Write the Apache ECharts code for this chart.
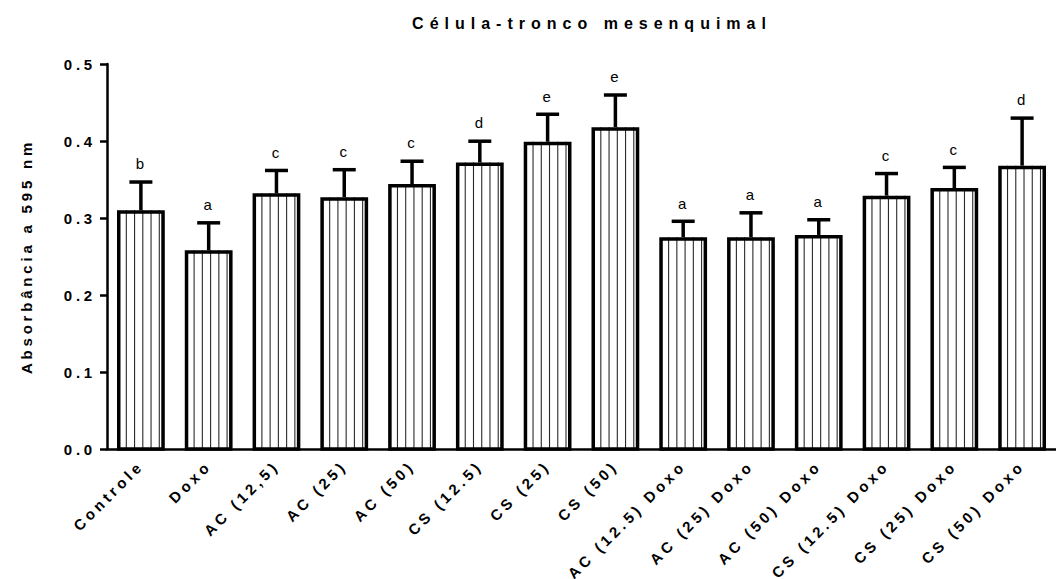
<!DOCTYPE html>
<html>
<head>
<meta charset="utf-8">
<title>Célula-tronco mesenquimal</title>
<script src="https://cdn.jsdelivr.net/npm/echarts@6/dist/echarts.min.js"></script>
<style>
  html, body { margin: 0; padding: 0; background: #fff; }
  #chart { width: 1056px; height: 579px; }
</style>
</head>
<body>
<div id="chart"></div>
<script>
// Group names on the x axis
const categories = [
  'Controle', 'Doxo', 'AC (12,5)', 'AC (25)', 'AC (50)',
  'CS (12.5)', 'CS (25)', 'CS (50)',
  'AC (12.5) Doxo', 'AC (25) Doxo', 'AC (50) Doxo',
  'CS (12.5) Doxo', 'CS (25) Doxo', 'CS (50) Doxo'
];
// Mean absorbance at 595 nm
const means = [0.310, 0.258, 0.332, 0.327, 0.344, 0.372, 0.399, 0.418, 0.275, 0.275, 0.278, 0.329, 0.339, 0.368];
// Standard deviation (upper error bar)
const sd = [0.039, 0.038, 0.032, 0.038, 0.032, 0.030, 0.038, 0.044, 0.023, 0.034, 0.022, 0.031, 0.029, 0.064];
// Statistical grouping letters
const letters = ['b', 'a', 'c', 'c', 'c', 'd', 'e', 'e', 'a', 'a', 'a', 'c', 'c', 'd'];
// Y axis ticks
const yTicks = { min: 0, max: 0.5, interval: 0.1 };

const FONT = '"Liberation Sans", Arial, Helvetica, sans-serif';
const INK = '#000';

const barData = means.map((m, i) => [i, m]);
const errData = means.map((m, i) => [i, m, +(m + sd[i]).toFixed(4)]);

const chart = echarts.init(document.getElementById('chart'), null, { renderer: 'svg' });

chart.setOption({
  animation: false,
  backgroundColor: '#fff',
  title: {
    text: 'Célula-tronco mesenquimal',
    left: 587,
    top: 10,
    textAlign: 'center',
    textStyle: { fontFamily: FONT, fontSize: 16, fontWeight: 'bold', color: INK }
  },
  grid: { left: 107, top: 64, width: 958, height: 385, containLabel: false },
  xAxis: {
    type: 'category',
    data: categories,
    z: 5,
    boundaryGap: true,
    axisLine: { lineStyle: { color: INK, width: 2.5 } },
    axisTick: { alignWithLabel: true, length: 6, lineStyle: { color: INK, width: 2.5 } },
    axisLabel: {
      rotate: 45, interval: 0, margin: 14,
      fontFamily: FONT, fontSize: 15, fontWeight: 'bold', color: INK
    },
    splitLine: { show: false }
  },
  yAxis: {
    type: 'value',
    min: yTicks.min, max: yTicks.max, interval: yTicks.interval,
    z: 5,
    name: 'Absorbância a 595 nm',
    nameLocation: 'middle',
    nameGap: 73,
    nameTextStyle: { fontFamily: FONT, fontSize: 15, fontWeight: 'bold', color: INK },
    axisLine: { show: true, lineStyle: { color: INK, width: 2.5 } },
    axisTick: { show: true, length: 7, lineStyle: { color: INK, width: 2.5 } },
    axisLabel: {
      margin: 11,
      formatter: v => v.toFixed(1),
      fontFamily: FONT, fontSize: 15, fontWeight: 'bold', color: INK
    },
    splitLine: { show: false }
  },
  series: [
    {
      // Outlined bars with vertical hatching
      type: 'custom',
      name: 'bars',
      data: barData,
      z: 2,
      renderItem(params, api) {
        const idx = api.value(0);
        const top = api.coord([idx, api.value(1)]);
        const base = api.coord([idx, 0]);
        const bw = api.size([1, 0])[0] * 0.705;
        const x0 = top[0] - bw / 2;
        const lw = 3.5;
        const children = [{
          type: 'rect',
          shape: { x: x0, y: top[1], width: bw, height: base[1] - top[1] },
          style: { fill: '#fff' }
        }];
        for (let k = 0; k < 5; k++) {
          const x = x0 + bw * (0.195 + k * 0.1725);
          children.push({
            type: 'line',
            shape: { x1: x, y1: top[1], x2: x, y2: base[1] },
            style: { stroke: '#2a2a2a', lineWidth: 1.1 }
          });
        }
        children.push({
          type: 'rect',
          shape: { x: x0 + lw / 2, y: top[1] + lw / 2, width: bw - lw, height: base[1] - top[1] - lw / 2 },
          style: { fill: 'none', stroke: INK, lineWidth: lw }
        });
        return { type: 'group', children };
      }
    },
    {
      // Upper error bars with group letters
      type: 'custom',
      name: 'sd',
      data: errData,
      z: 3,
      renderItem(params, api) {
        const idx = api.value(0);
        const lo = api.coord([idx, api.value(1)]);
        const hi = api.coord([idx, api.value(2)]);
        const letter = letters[params.dataIndex];
        const capHalf = 11.5;
        const lw = 3.5;
        const capY = hi[1] + lw / 2;
        return {
          type: 'group',
          children: [
            {
              type: 'line',
              shape: { x1: lo[0], y1: lo[1], x2: hi[0], y2: capY },
              style: { stroke: INK, lineWidth: lw }
            },
            {
              type: 'line',
              shape: { x1: hi[0] - capHalf, y1: capY, x2: hi[0] + capHalf, y2: capY },
              style: { stroke: INK, lineWidth: lw }
            },
            {
              type: 'text',
              style: {
                text: letter,
                x: hi[0] - 1,
                y: hi[1] - 9,
                align: 'center', verticalAlign: 'bottom',
                textAlign: 'center', textVerticalAlign: 'bottom',
                fontFamily: FONT, fontSize: 15, fontWeight: 'normal',
                fill: INK
              }
            }
          ]
        };
      }
    }
  ]
});

// Widen tracking on the bold labels, title and axis name
function applyTracking() {
  document.querySelectorAll('#chart svg text').forEach(t => {
    const cs = getComputedStyle(t);
    const bold = cs.fontWeight === 'bold' || parseInt(cs.fontWeight, 10) >= 600;
    if (!bold) return;
    const size = parseFloat(cs.fontSize);
    t.style.letterSpacing = size >= 16 ? '6px' : '3.8px';
  });
}
chart.on('finished', applyTracking);
setTimeout(applyTracking, 50);
</script>
</body>
</html>
